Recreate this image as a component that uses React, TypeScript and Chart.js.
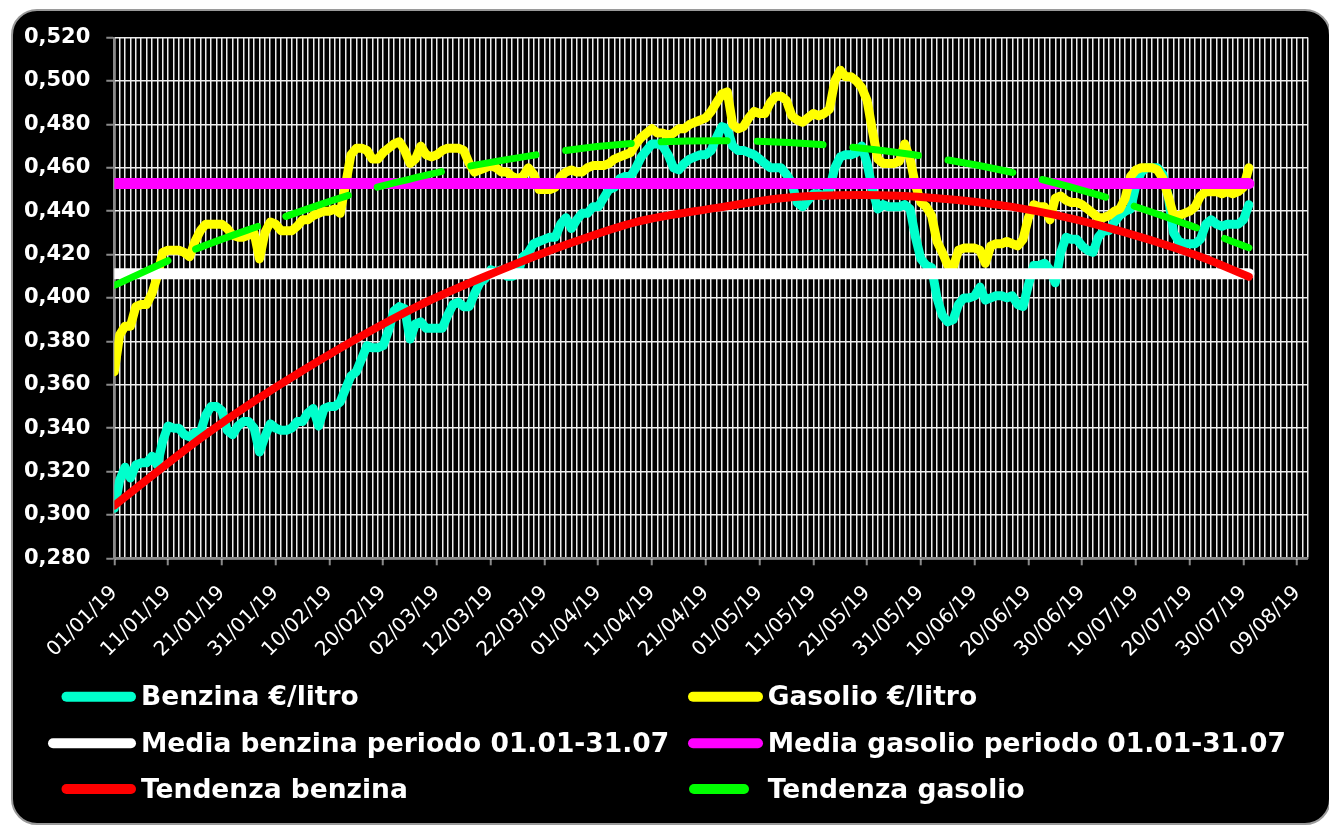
import React, { useEffect, useRef } from 'react';
import { Chart, registerables } from 'chart.js';

Chart.register(...registerables);

// ---- data ----
const dateLabels = [
  '01/01/19', '11/01/19', '21/01/19', '31/01/19', '10/02/19', '20/02/19', '02/03/19', '12/03/19',
  '22/03/19', '01/04/19', '11/04/19', '21/04/19', '01/05/19', '11/05/19', '21/05/19', '31/05/19',
  '10/06/19', '20/06/19', '30/06/19', '10/07/19', '20/07/19', '30/07/19', '09/08/19',
];

// daily values from 01/01/19 (day 0) to 31/07/19 (day 211)
const benzina = [
  0.303, 0.316, 0.322, 0.317, 0.323, 0.324, 0.324, 0.327, 0.323, 0.334,
  0.341, 0.340, 0.340, 0.337, 0.336, 0.338, 0.338, 0.346, 0.350, 0.350,
  0.348, 0.339, 0.337, 0.341, 0.343, 0.343, 0.340, 0.329, 0.336, 0.342,
  0.340, 0.339, 0.339, 0.340, 0.343, 0.343, 0.347, 0.349, 0.341, 0.349,
  0.350, 0.350, 0.352, 0.358, 0.364, 0.366, 0.372, 0.378, 0.377, 0.377,
  0.378, 0.385, 0.394, 0.396, 0.395, 0.381, 0.388, 0.389, 0.386, 0.386,
  0.386, 0.386, 0.392, 0.397, 0.398, 0.396, 0.396, 0.402, 0.407, 0.409,
  0.413, 0.412, 0.413, 0.410, 0.410, 0.411, 0.419, 0.421, 0.425, 0.426,
  0.427, 0.428, 0.428, 0.434, 0.437, 0.432, 0.436, 0.439, 0.439, 0.442,
  0.442, 0.446, 0.450, 0.451, 0.455, 0.456, 0.456, 0.460, 0.465, 0.468,
  0.471, 0.471, 0.470, 0.466, 0.460, 0.459, 0.462, 0.464, 0.465, 0.466,
  0.466, 0.468, 0.474, 0.479, 0.478, 0.470, 0.468, 0.468, 0.467, 0.466,
  0.464, 0.462, 0.460, 0.460, 0.460, 0.457, 0.453, 0.444, 0.442, 0.445,
  0.448, 0.448, 0.447, 0.450, 0.460, 0.465, 0.466, 0.466, 0.467, 0.470,
  0.462, 0.450, 0.441, 0.443, 0.442, 0.442, 0.442, 0.443, 0.441, 0.428,
  0.418, 0.415, 0.414, 0.400, 0.392, 0.389, 0.390, 0.397, 0.400, 0.400,
  0.401, 0.405, 0.399, 0.400, 0.401, 0.401, 0.400, 0.401, 0.397, 0.396,
  0.406, 0.415, 0.415, 0.416, 0.413, 0.407, 0.421, 0.428, 0.427, 0.427,
  0.424, 0.422, 0.421, 0.428, 0.431, 0.431, 0.435, 0.438, 0.440, 0.441,
  0.452, 0.458, 0.460, 0.460, 0.460, 0.457, 0.447, 0.430, 0.426, 0.425,
  0.425, 0.425, 0.427, 0.434, 0.436, 0.434, 0.433, 0.434, 0.434, 0.434,
  0.436, 0.443,
];

const gasolio = [
  0.366, 0.383, 0.387, 0.387, 0.396, 0.397, 0.397, 0.402, 0.410, 0.421,
  0.422, 0.422, 0.422, 0.421, 0.419, 0.426, 0.431, 0.434, 0.434, 0.434,
  0.434, 0.432, 0.429, 0.428, 0.428, 0.429, 0.430, 0.418, 0.430, 0.435,
  0.434, 0.431, 0.431, 0.431, 0.433, 0.436, 0.436, 0.438, 0.439, 0.440,
  0.440, 0.441, 0.439, 0.452, 0.466, 0.469, 0.469, 0.468, 0.464, 0.464,
  0.467, 0.469, 0.471, 0.472, 0.468, 0.462, 0.464, 0.470, 0.466, 0.465,
  0.466, 0.468, 0.469, 0.469, 0.469, 0.468, 0.462, 0.458, 0.459, 0.460,
  0.461, 0.460, 0.458, 0.458, 0.456, 0.455, 0.456, 0.460, 0.457, 0.450,
  0.450, 0.450, 0.451, 0.456, 0.458, 0.459, 0.458, 0.458, 0.460, 0.461,
  0.461, 0.461, 0.462, 0.464, 0.465, 0.466, 0.467, 0.471, 0.474, 0.476,
  0.478, 0.476, 0.476, 0.475, 0.476, 0.478, 0.478, 0.480, 0.481, 0.482,
  0.483, 0.486, 0.490, 0.494, 0.495, 0.480, 0.478, 0.479, 0.483, 0.486,
  0.485, 0.485, 0.490, 0.493, 0.493, 0.491, 0.484, 0.482, 0.481, 0.483,
  0.485, 0.484, 0.485, 0.487, 0.500, 0.505, 0.502, 0.502, 0.500, 0.497,
  0.491, 0.477, 0.464, 0.462, 0.462, 0.462, 0.463, 0.471, 0.464, 0.452,
  0.444, 0.442, 0.438, 0.426, 0.421, 0.415, 0.414, 0.422, 0.423, 0.423,
  0.423, 0.422, 0.416, 0.424, 0.425, 0.425, 0.426, 0.425, 0.424, 0.427,
  0.437, 0.443, 0.442, 0.442, 0.436, 0.446, 0.447, 0.445, 0.444, 0.444,
  0.443, 0.441, 0.439, 0.437, 0.437, 0.438, 0.440, 0.441, 0.446, 0.456,
  0.459, 0.460, 0.460, 0.460, 0.459, 0.455, 0.447, 0.438, 0.438, 0.439,
  0.440, 0.442, 0.447, 0.449, 0.449, 0.449, 0.448, 0.449, 0.448, 0.449,
  0.451, 0.460,
];

const mediaBenzina = 0.4112;
const mediaGasolio = 0.4527;
const mediaDays = [0, 211];

const tendBenzinaDays = [0, 17, 35, 56, 71, 85, 97, 112, 125, 139, 153, 167, 183, 202, 211];
const tendBenzinaVals = [0.3043, 0.3371, 0.3665, 0.3957, 0.412, 0.4254, 0.435, 0.4415, 0.4462, 0.4474, 0.446, 0.442, 0.4336, 0.419, 0.4098];

const tendGasolioDays = [0, 13.7, 26.7, 44.7, 54, 62, 85, 97, 112, 131.4, 148.7, 166, 183.1, 200.3, 211];
const tendGasolioVals = [0.4058, 0.4211, 0.433, 0.4482, 0.4542, 0.4588, 0.4683, 0.4713, 0.4725, 0.4707, 0.466, 0.4584, 0.4474, 0.4332, 0.4231];

const seriesLabels = [
  'Benzina €/litro',
  'Gasolio €/litro',
  'Media benzina periodo 01.01-31.07',
  'Media gasolio periodo 01.01-31.07',
  'Tendenza benzina',
  'Tendenza gasolio',
];

// ---- layout / style constants ----
const CANVAS_W = 1318;
const CANVAS_H = 816;
const LEGEND_FONT = 'bold 26.5px "DejaVu Sans"';
const legendSlots = [
  { sx0: 50.5, sx1: 125, sy: 687.7, tx: 130, ty: 696 },
  { sx0: 677, sx1: 752, sy: 687.7, tx: 756.7, ty: 696 },
  { sx0: 37, sx1: 125, sy: 734.3, tx: 130, ty: 742.7 },
  { sx0: 677, sx1: 752, sy: 734.3, tx: 756.7, ty: 742.7 },
  { sx0: 50.5, sx1: 125, sy: 780, tx: 130, ty: 788.7 },
  { sx0: 678, sx1: 738, sy: 780, tx: 756.7, ty: 788.7 },
];

const legendPlugin = {
  id: 'gridLegend',
  afterDraw(chart: any) {
    const ctx = chart.ctx;
    ctx.save();
    chart.data.datasets.forEach((ds: any, i: number) => {
      const s = legendSlots[i];
      if (!s) return;
      ctx.beginPath();
      ctx.lineCap = 'round';
      ctx.lineWidth = 10;
      ctx.strokeStyle = ds.borderColor;
      ctx.moveTo(s.sx0 + 5, s.sy);
      ctx.lineTo(s.sx1 - 5, s.sy);
      ctx.stroke();
      ctx.font = LEGEND_FONT;
      ctx.fillStyle = '#ffffff';
      ctx.textAlign = 'left';
      ctx.textBaseline = 'alphabetic';
      ctx.fillText(ds.label, s.tx, s.ty);
    });
    ctx.restore();
  },
};

export default function App() {
  const canvasRef = useRef<HTMLCanvasElement | null>(null);

  useEffect(() => {
    if (!canvasRef.current) return;
    const toXY = (days: number[], vals: number[]) => days.map((d, i) => ({ x: d, y: vals[i] }));
    const chart = new Chart(canvasRef.current, {
      type: 'line',
      data: {
        datasets: [
          {
            label: seriesLabels[0],
            data: benzina.map((y, i) => ({ x: i, y })),
            borderColor: '#00FFCC',
            borderWidth: 9,
            order: 6,
          },
          {
            label: seriesLabels[1],
            data: gasolio.map((y, i) => ({ x: i, y })),
            borderColor: '#FFFF00',
            borderWidth: 9,
            order: 5,
          },
          {
            label: seriesLabels[2],
            data: mediaDays.map((d) => ({ x: d, y: mediaBenzina })),
            borderColor: '#FFFFFF',
            borderWidth: 11,
            order: 4,
          },
          {
            label: seriesLabels[3],
            data: mediaDays.map((d) => ({ x: d, y: mediaGasolio })),
            borderColor: '#FF00FF',
            borderWidth: 11,
            order: 3,
          },
          {
            label: seriesLabels[4],
            data: toXY(tendBenzinaDays, tendBenzinaVals),
            borderColor: '#FF0000',
            borderWidth: 8,
            cubicInterpolationMode: 'monotone',
            order: 2,
          },
          {
            label: seriesLabels[5],
            data: toXY(tendGasolioDays, tendGasolioVals),
            borderColor: '#00FF00',
            borderWidth: 7,
            borderDash: [66, 30],
            borderDashOffset: 7,
            cubicInterpolationMode: 'monotone',
            order: 1,
          },
        ] as any,
      },
      options: {
        animation: false,
        responsive: true,
        maintainAspectRatio: false,
        events: [],
        layout: { padding: { left: 0, top: 23.7, right: 21, bottom: 0 } },
        elements: {
          point: { radius: 0 },
          line: { borderCapStyle: 'round', borderJoinStyle: 'round', tension: 0 },
        },
        plugins: {
          legend: { display: false },
          tooltip: { enabled: false },
        },
        scales: {
          x: {
            type: 'linear',
            min: 0,
            max: 222,
            afterFit: (s: any) => {
              s.height = 266.7;
              s.paddingLeft = 0;
              s.paddingRight = 0;
            },
            ticks: {
              stepSize: 1,
              autoSkip: false,
              minRotation: 45,
              maxRotation: 45,
              padding: 16,
              color: '#ffffff',
              font: { family: 'DejaVu Sans', size: 20 },
              callback: (v: any) => {
                const n = Number(v);
                if (n % 10 === 0) return dateLabels[n / 10] ?? '';
                return '';
              },
            },
            grid: {
              color: '#ececec',
              lineWidth: 1.5,
              tickLength: 7,
              tickWidth: 2,
              tickColor: (c: any) =>
                c.tick && Number(c.tick.value) % 10 === 0 ? '#8a8a8a' : 'rgba(0,0,0,0)',
            },
            border: { color: '#8a8a8a', width: 2 },
          },
          y: {
            min: 0.28,
            max: 0.52,
            afterFit: (s: any) => {
              s.width = 103.3;
            },
            ticks: {
              stepSize: 0.02,
              padding: 16,
              color: '#ffffff',
              font: { family: 'DejaVu Sans', size: 21, weight: 'bold' },
              callback: (v: any) => Number(v).toFixed(3).replace('.', ','),
            },
            grid: {
              color: '#ececec',
              lineWidth: 1.5,
              tickLength: 8,
              tickWidth: 2,
              tickColor: '#8a8a8a',
            },
            border: { color: '#8a8a8a', width: 2 },
          },
        },
      } as any,
      plugins: [legendPlugin],
    });
    return () => chart.destroy();
  }, []);

  return (
    <div>
      <div
        style={{
          position: 'fixed',
          left: 11,
          top: 9,
          width: 1320,
          height: CANVAS_H,
          background: '#000',
          border: '2px solid #9a9a9a',
          borderRadius: 26,
          boxSizing: 'border-box',
        }}
      />
      <div style={{ position: 'fixed', left: 11, top: 9, width: CANVAS_W, height: CANVAS_H }}>
        <canvas ref={canvasRef} />
      </div>
    </div>
  );
}
